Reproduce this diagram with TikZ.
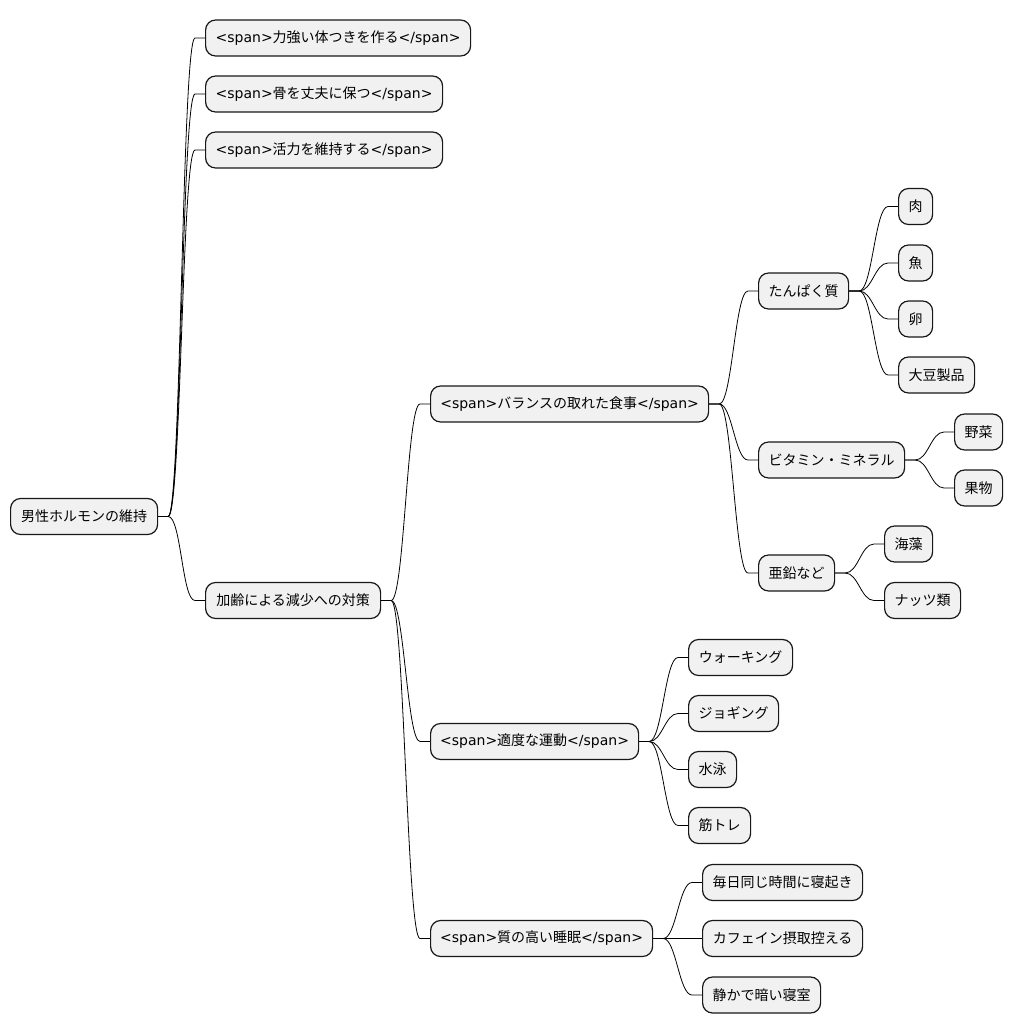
\documentclass[tikz,border=0pt]{standalone}
\usepackage{fontspec}
\setmainfont{DejaVu Sans}
\newfontfamily\cjk{Noto Sans CJK JP}
\usetikzlibrary{calc,backgrounds}
\definecolor{boxfill}{HTML}{F1F1F1}
\definecolor{boxline}{HTML}{181818}
\newcommand\spn[1]{<span>{\cjk #1}</span>}
\tikzset{
  box/.style={draw=boxline, fill=boxfill, line width=1.2pt, rounded corners=10pt,
    anchor=west, inner sep=0pt, minimum height=36pt, font=\fontsize{14}{16}\selectfont},
  conn/.style={draw=black, line width=0.8pt},
}
\newcommand\conn[2]{\draw[conn] (#1.east) -- ++(10,0) coordinate (tmpa)
  .. controls ($(tmpa)+(13,0)$) and ($(#2.west)+(-23,0)$) .. ($(#2.west)+(-10,0)$) -- (#2.west);}
\begin{document}
\begin{tikzpicture}[x=1pt,y=-1pt]
\useasboundingbox (0,0) rectangle (1013,1034);
% root
\node[box, minimum width=147pt] (root) at (10,516.5) {\cjk 男性ホルモンの維持};
% level 1
\node[box, minimum width=265pt] (a1) at (205,38) {\spn{力強い体つきを作る}};
\node[box, minimum width=237pt] (a2) at (205,94) {\spn{骨を丈夫に保つ}};
\node[box, minimum width=237pt] (a3) at (205,150) {\spn{活力を維持する}};
\node[box, minimum width=175pt] (kr) at (205,600.5) {\cjk 加齢による減少への対策};
% level 2
\node[box, minimum width=278pt] (food) at (430,404) {\spn{バランスの取れた食事}};
\node[box, minimum width=208pt] (ex) at (430,741.5) {\spn{適度な運動}};
\node[box, minimum width=222pt] (sl) at (430,938.5) {\spn{質の高い睡眠}};
% level 3
\node[box, minimum width=90pt] (tp) at (758,291) {\cjk たんぱく質};
\node[box, minimum width=146pt] (vm) at (758,460) {\cjk ビタミン・ミネラル};
\node[box, minimum width=76pt] (ae) at (758,573) {\cjk 亜鉛など};
\node[box, minimum width=104pt] (wk) at (688,657.5) {\cjk ウォーキング};
\node[box, minimum width=90pt] (jg) at (688,713.5) {\cjk ジョギング};
\node[box, minimum width=48pt] (sw) at (688,769.5) {\cjk 水泳};
\node[box, minimum width=62pt] (kt) at (688,825.5) {\cjk 筋トレ};
\node[box, minimum width=160pt] (mn) at (702,882.5) {\cjk 毎日同じ時間に寝起き};
\node[box, minimum width=160pt] (cf) at (702,938.5) {\cjk カフェイン摂取控える};
\node[box, minimum width=118pt] (sz) at (702,995) {\cjk 静かで暗い寝室};
% level 4
\node[box, minimum width=34pt] (ni) at (898,206.5) {\cjk 肉};
\node[box, minimum width=34pt] (sk) at (898,263) {\cjk 魚};
\node[box, minimum width=34pt] (tm) at (898,319) {\cjk 卵};
\node[box, minimum width=76pt] (dz) at (898,375) {\cjk 大豆製品};
\node[box, minimum width=48pt] (ys) at (954,432) {\cjk 野菜};
\node[box, minimum width=48pt] (kd) at (954,488) {\cjk 果物};
\node[box, minimum width=48pt] (ks) at (884,544) {\cjk 海藻};
\node[box, minimum width=76pt] (nt) at (884,600.5) {\cjk ナッツ類};
\begin{scope}[on background layer]
\conn{root}{a1}\conn{root}{a2}\conn{root}{a3}\conn{root}{kr}
\conn{kr}{food}\conn{kr}{ex}\conn{kr}{sl}
\conn{food}{tp}\conn{food}{vm}\conn{food}{ae}
\conn{tp}{ni}\conn{tp}{sk}\conn{tp}{tm}\conn{tp}{dz}
\conn{vm}{ys}\conn{vm}{kd}
\conn{ae}{ks}\conn{ae}{nt}
\conn{ex}{wk}\conn{ex}{jg}\conn{ex}{sw}\conn{ex}{kt}
\conn{sl}{mn}\conn{sl}{cf}\conn{sl}{sz}
\end{scope}
\end{tikzpicture}
\end{document}
